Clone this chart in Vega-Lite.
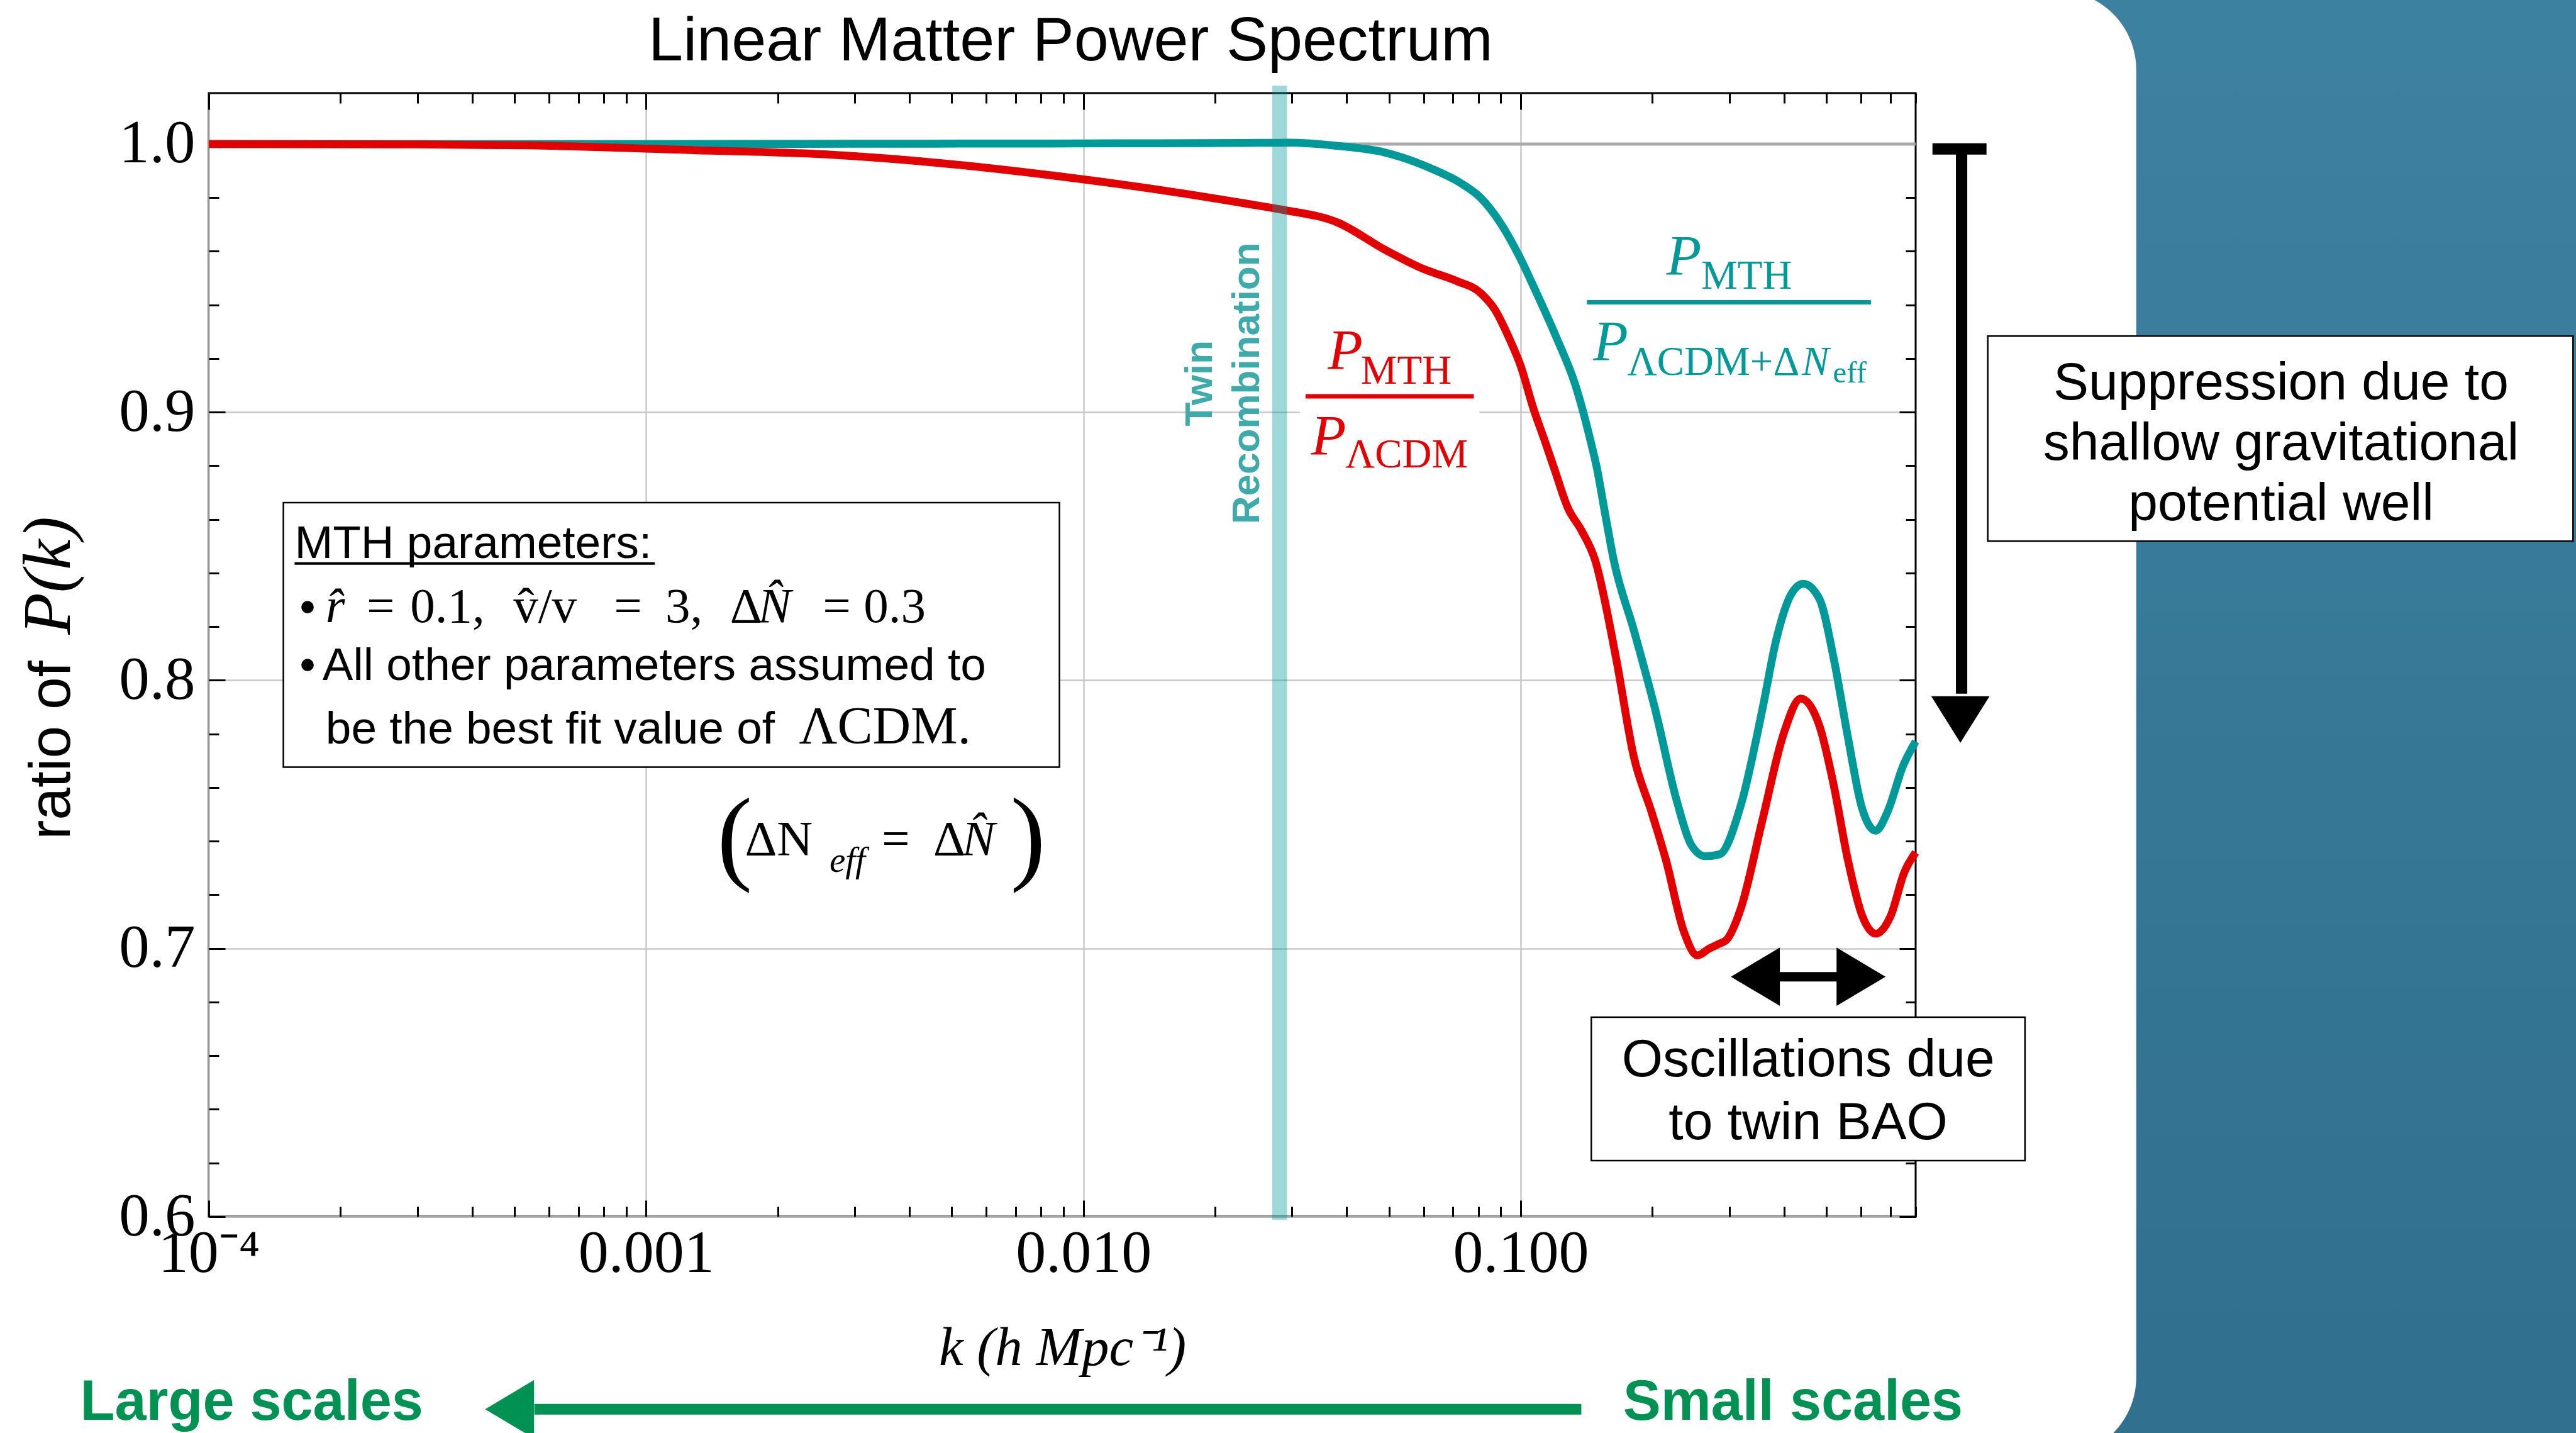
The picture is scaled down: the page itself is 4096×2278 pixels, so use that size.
{
 "$schema": "https://vega.github.io/schema/vega-lite/v6.json",
 "width": 2714,
 "height": 1786,
 "autosize": {"type": "none"},
 "padding": {"left": 332, "top": 148, "right": 1050, "bottom": 344},
 "background": "white",
 "config": {"view": {"stroke": "black", "strokeWidth": 3}},
 "data": {"values": [{}]},
 "datasets": {
  "teal": [
   {"k": 0.0001, "ratio": 1.0}, {"k": 0.0003, "ratio": 1.0}, {"k": 0.001, "ratio": 1.0}, {"k": 0.003, "ratio": 1.0001},
   {"k": 0.008, "ratio": 1.0002}, {"k": 0.015, "ratio": 1.0003}, {"k": 0.02313, "ratio": 1.0004}, {"k": 0.02935, "ratio": 1.0005},
   {"k": 0.03818, "ratio": 0.9993}, {"k": 0.04902, "ratio": 0.9968}, {"k": 0.06297, "ratio": 0.9906}, {"k": 0.07316, "ratio": 0.9853},
   {"k": 0.08091, "ratio": 0.98}, {"k": 0.08943, "ratio": 0.9711}, {"k": 0.09886, "ratio": 0.9587}, {"k": 0.1093, "ratio": 0.9436},
   {"k": 0.1208, "ratio": 0.9277}, {"k": 0.1335, "ratio": 0.9099}, {"k": 0.1439, "ratio": 0.8904}, {"k": 0.1494, "ratio": 0.879},
   {"k": 0.156, "ratio": 0.862}, {"k": 0.163, "ratio": 0.8452}, {"k": 0.1815, "ratio": 0.8186}, {"k": 0.2031, "ratio": 0.789},
   {"k": 0.2274, "ratio": 0.7551}, {"k": 0.2451, "ratio": 0.7388}, {"k": 0.2642, "ratio": 0.7344}, {"k": 0.2849, "ratio": 0.7351},
   {"k": 0.3189, "ratio": 0.7536}, {"k": 0.3568, "ratio": 0.789}, {"k": 0.3846, "ratio": 0.8156}, {"k": 0.4147, "ratio": 0.8319},
   {"k": 0.4428, "ratio": 0.836}, {"k": 0.4819, "ratio": 0.8304}, {"k": 0.5195, "ratio": 0.8083}, {"k": 0.5601, "ratio": 0.7787},
   {"k": 0.6038, "ratio": 0.7521}, {"k": 0.6485, "ratio": 0.7439}, {"k": 0.6884, "ratio": 0.7506}, {"k": 0.7495, "ratio": 0.7683},
   {"k": 0.8, "ratio": 0.7772}
  ],
  "red": [
   {"k": 0.0001, "ratio": 1.0}, {"k": 0.0003, "ratio": 0.9999}, {"k": 0.000534, "ratio": 0.9995}, {"k": 0.001283, "ratio": 0.9977},
   {"k": 0.00266, "ratio": 0.996}, {"k": 0.004779, "ratio": 0.9928}, {"k": 0.00856, "ratio": 0.9882}, {"k": 0.01537, "ratio": 0.9826},
   {"k": 0.02313, "ratio": 0.978}, {"k": 0.02828, "ratio": 0.9756}, {"k": 0.03818, "ratio": 0.9707}, {"k": 0.04902, "ratio": 0.9605},
   {"k": 0.05994, "ratio": 0.9534}, {"k": 0.07141, "ratio": 0.9489}, {"k": 0.08091, "ratio": 0.9445}, {"k": 0.08724, "ratio": 0.9383},
   {"k": 0.09404, "ratio": 0.9277}, {"k": 0.1001, "ratio": 0.917}, {"k": 0.1066, "ratio": 0.902}, {"k": 0.1134, "ratio": 0.8895},
   {"k": 0.1193, "ratio": 0.879}, {"k": 0.1281, "ratio": 0.8644}, {"k": 0.138, "ratio": 0.8556}, {"k": 0.1477, "ratio": 0.8452},
   {"k": 0.1652, "ratio": 0.8083}, {"k": 0.1815, "ratio": 0.7713}, {"k": 0.1994, "ratio": 0.7506}, {"k": 0.2149, "ratio": 0.7329},
   {"k": 0.2361, "ratio": 0.7063}, {"k": 0.2535, "ratio": 0.6974}, {"k": 0.27, "ratio": 0.7}, {"k": 0.2849, "ratio": 0.7018},
   {"k": 0.2958, "ratio": 0.7033}, {"k": 0.3189, "ratio": 0.7151}, {"k": 0.3568, "ratio": 0.7477}, {"k": 0.3994, "ratio": 0.7802},
   {"k": 0.4371, "ratio": 0.7932}, {"k": 0.4819, "ratio": 0.7831}, {"k": 0.5195, "ratio": 0.761}, {"k": 0.5601, "ratio": 0.7329},
   {"k": 0.6038, "ratio": 0.7122}, {"k": 0.6485, "ratio": 0.7055}, {"k": 0.7016, "ratio": 0.7122}, {"k": 0.7537, "ratio": 0.7284},
   {"k": 0.8, "ratio": 0.7358}
  ]
 },
 "resolve": {"axis": {"x": "independent", "y": "independent"}},
 "layer": [
  {
   "mark": {"type": "rect", "fill": {"x1": 0, "y1": 0, "x2": 0, "y2": 1, "gradient": "linear", "stops": [{"offset": 0, "color": "#3e82a2"}, {"offset": 1, "color": "#2f6d8b"}]}},
   "encoding": {
    "x": {"datum": 1.627, "type": "quantitative", "scale": {"type": "log", "domain": [0.0001, 0.8], "nice": false}, "axis": null},
    "x2": {"datum": 200},
    "y": {"datum": 0.45, "type": "quantitative", "scale": {"domain": [0.6, 1.019], "nice": false, "zero": false}, "axis": null},
    "y2": {"datum": 1.1}
   }
  },
  {
   "mark": {"type": "rect", "fill": "white", "cornerRadius": 126},
   "encoding": {
    "x": {"datum": 0.846, "type": "quantitative", "scale": {"type": "log", "domain": [0.0001, 0.8], "nice": false}, "axis": null},
    "x2": {"datum": 2.556},
    "y": {"datum": 0.51054, "type": "quantitative", "scale": {"domain": [0.6, 1.019], "nice": false, "zero": false}, "axis": null},
    "y2": {"datum": 1.05724}
   }
  },
  {
   "mark": {"type": "rect", "fill": "white"},
   "encoding": {
    "x": {"datum": 0.03126, "type": "quantitative", "scale": {"type": "log", "domain": [0.0001, 0.8], "nice": false},
     "axis": {"orient": "top", "values": [0.0002, 0.0003, 0.0004, 0.0005, 0.0006, 0.0007, 0.0008, 0.0009, 0.002, 0.003, 0.004, 0.005, 0.006, 0.007, 0.008, 0.009, 0.02, 0.03, 0.04, 0.05, 0.06, 0.07, 0.08, 0.09, 0.2, 0.3, 0.4, 0.5, 0.6, 0.7, 0.8], "labels": false, "ticks": true, "tickSize": -16, "tickWidth": 3, "tickColor": "black", "domain": false, "grid": false, "title": null}},
    "x2": {"datum": 0.08045},
    "y": {"datum": 0.87532, "type": "quantitative", "scale": {"domain": [0.6, 1.019], "nice": false, "zero": false},
     "axis": {"orient": "right", "values": [0.6, 0.62, 0.64, 0.66, 0.68, 0.7, 0.72, 0.74, 0.76, 0.78, 0.8, 0.82, 0.84, 0.86, 0.88, 0.9, 0.92, 0.94, 0.96, 0.98, 1.0], "labels": false, "ticks": true, "tickSize": -16, "tickWidth": 3, "tickColor": "black", "domain": false, "grid": false, "title": null}},
    "y2": {"datum": 0.93441}
   }
  },
  {
   "mark": {"type": "rule", "color": "#aaaaaa", "strokeWidth": 5},
   "encoding": {
    "x": {"datum": 0.0001, "type": "quantitative", "scale": {"type": "log", "domain": [0.0001, 0.8], "nice": false},
     "axis": {"orient": "bottom", "values": [0.0002, 0.0003, 0.0004, 0.0005, 0.0006, 0.0007, 0.0008, 0.0009, 0.002, 0.003, 0.004, 0.005, 0.006, 0.007, 0.008, 0.009, 0.02, 0.03, 0.04, 0.05, 0.06, 0.07, 0.08, 0.09, 0.2, 0.3, 0.4, 0.5, 0.6, 0.7, 0.8], "labels": false, "ticks": true, "tickSize": -16, "tickWidth": 3, "tickColor": "black", "domain": false, "grid": false, "title": null}},
    "x2": {"datum": 0.8},
    "y": {"datum": 1.0, "type": "quantitative", "scale": {"domain": [0.6, 1.019], "nice": false, "zero": false},
     "axis": {"orient": "left", "values": [0.6, 0.62, 0.64, 0.66, 0.68, 0.7, 0.72, 0.74, 0.76, 0.78, 0.8, 0.82, 0.84, 0.86, 0.88, 0.9, 0.92, 0.94, 0.96, 0.98, 1.0], "labels": false, "ticks": true, "tickSize": -16, "tickWidth": 3, "tickColor": "black", "domain": false, "grid": false, "title": null}}
   }
  },
  {
   "data": {"name": "teal"},
   "mark": {"type": "line", "color": "#009999", "strokeWidth": 12.5, "interpolate": "monotone"},
   "encoding": {
    "x": {"field": "k", "type": "quantitative", "scale": {"type": "log", "domain": [0.0001, 0.8], "nice": false},
     "axis": {"orient": "bottom", "values": [0.0001, 0.001, 0.01, 0.1], "labelExpr": "datum.value < 0.0005 ? '10⁻⁴' : format(datum.value, '.3f')", "labelFont": "Liberation Serif", "labelFontSize": 96, "labelColor": "black", "labelPadding": 11, "labelLimit": 0, "labelFlush": false, "labelOverlap": false, "ticks": false, "domain": false, "grid": true, "gridColor": "#c8c8c8", "gridWidth": 2.5, "title": "k (h Mpc⁻¹)", "titleFont": "Liberation Serif", "titleFontStyle": "italic", "titleFontWeight": "normal", "titleFontSize": 87, "titleColor": "black", "titlePadding": 60}},
    "y": {"field": "ratio", "type": "quantitative", "scale": {"domain": [0.6, 1.019], "nice": false, "zero": false},
     "axis": {"orient": "left", "values": [0.6, 0.7, 0.8, 0.9, 1.0], "format": ".1f", "labelFont": "Liberation Serif", "labelFontSize": 97, "labelColor": "black", "labelPadding": 22, "labelLimit": 0, "labelFlush": false, "labelOverlap": false, "ticks": false, "domain": false, "grid": true, "gridColor": "#c8c8c8", "gridWidth": 2.5, "title": null}}
   }
  },
  {
   "data": {"name": "red"},
   "mark": {"type": "line", "color": "#e30000", "strokeWidth": 12.5, "interpolate": "monotone"},
   "encoding": {
    "x": {"field": "k", "type": "quantitative", "scale": {"type": "log", "domain": [0.0001, 0.8], "nice": false},
     "axis": {"orient": "bottom", "values": [0.0001, 0.001, 0.01, 0.1], "labels": false, "ticks": true, "tickSize": -26, "tickWidth": 3, "tickColor": "black", "domain": false, "grid": false, "title": null}},
    "y": {"field": "ratio", "type": "quantitative", "scale": {"domain": [0.6, 1.019], "nice": false, "zero": false},
     "axis": {"orient": "left", "values": [0.6, 0.7, 0.8, 0.9, 1.0], "labels": false, "ticks": true, "tickSize": -26, "tickWidth": 3, "tickColor": "black", "domain": false, "grid": false, "title": null}}
   }
  },
  {
   "mark": {"type": "rule", "color": "#009999", "opacity": 0.38, "strokeWidth": 23.5},
   "encoding": {
    "x": {"datum": 0.0281, "type": "quantitative", "scale": {"type": "log", "domain": [0.0001, 0.8], "nice": false},
     "axis": {"orient": "top", "values": [0.0001, 0.001, 0.01, 0.1], "labels": false, "ticks": true, "tickSize": -26, "tickWidth": 3, "tickColor": "black", "domain": false, "grid": false, "title": null}},
    "y": {"datum": 0.59884, "type": "quantitative", "scale": {"domain": [0.6, 1.019], "nice": false, "zero": false},
     "axis": {"orient": "right", "values": [0.6, 0.7, 0.8, 0.9, 1.0], "labels": false, "ticks": true, "tickSize": -26, "tickWidth": 3, "tickColor": "black", "domain": false, "grid": false, "title": null}},
    "y2": {"datum": 1.02178}
   }
  },
  {
   "data": {"values": [{"k": 0.01965, "v": 0.91078, "t": "Twin"}, {"k": 0.02518, "v": 0.91078, "t": "Recombination"}]},
   "mark": {"type": "text", "angle": 270, "align": "center", "baseline": "alphabetic", "font": "Liberation Sans", "fontWeight": "bold", "fontSize": 62, "color": "#3faaaa"},
   "encoding": {
    "x": {"field": "k", "type": "quantitative", "scale": {"type": "log", "domain": [0.0001, 0.8], "nice": false}, "axis": null},
    "y": {"field": "v", "type": "quantitative", "scale": {"domain": [0.6, 1.019], "nice": false, "zero": false}, "axis": null},
    "text": {"field": "t"}
   }
  },
  {
   "data": {"values": [{"k": 0.0322, "k2": 0.0781, "v": 0.90591, "c": "red"}, {"k": 0.1417, "k2": 0.6323, "v": 0.94102, "c": "teal"}]},
   "mark": {"type": "rule", "strokeWidth": 7},
   "encoding": {
    "x": {"field": "k", "type": "quantitative", "scale": {"type": "log", "domain": [0.0001, 0.8], "nice": false}, "axis": null},
    "x2": {"field": "k2"},
    "y": {"field": "v", "type": "quantitative", "scale": {"domain": [0.6, 1.019], "nice": false, "zero": false}, "axis": null},
    "color": {"field": "c", "type": "nominal", "scale": {"domain": ["red", "teal", "black", "green"], "range": ["#e30000", "#009999", "black", "#009252"]}, "legend": null}
   }
  },
  {
   "data": {"values": [{"k": 0.03622, "v": 0.9159, "t": "P", "c": "red"}, {"k": 0.03317, "v": 0.8841, "t": "P", "c": "red"}, {"k": 0.2154, "v": 0.9513, "t": "P", "c": "teal"}, {"k": 0.1464, "v": 0.9194, "t": "P", "c": "teal"}]},
   "mark": {"type": "text", "align": "left", "baseline": "alphabetic", "font": "Liberation Serif", "fontStyle": "italic", "fontSize": 91},
   "encoding": {
    "x": {"field": "k", "type": "quantitative", "scale": {"type": "log", "domain": [0.0001, 0.8], "nice": false}, "axis": null},
    "y": {"field": "v", "type": "quantitative", "scale": {"domain": [0.6, 1.019], "nice": false, "zero": false}, "axis": null},
    "text": {"field": "t"},
    "color": {"field": "c", "type": "nominal", "scale": {"domain": ["red", "teal", "black", "green"], "range": ["#e30000", "#009999", "black", "#009252"]}, "legend": null}
   }
  },
  {
   "data": {"values": [{"k": 0.04309, "v": 0.9105, "t": "MTH", "c": "red"}, {"k": 0.0397, "v": 0.8793, "t": "ΛCDM", "c": "red"}, {"k": 0.2587, "v": 0.946, "t": "MTH", "c": "teal"}, {"k": 0.1753, "v": 0.914, "t": "ΛCDM+Δ", "c": "teal"}]},
   "mark": {"type": "text", "align": "left", "baseline": "alphabetic", "font": "Liberation Serif", "fontSize": 65},
   "encoding": {
    "x": {"field": "k", "type": "quantitative", "scale": {"type": "log", "domain": [0.0001, 0.8], "nice": false}, "axis": null},
    "y": {"field": "v", "type": "quantitative", "scale": {"domain": [0.6, 1.019], "nice": false, "zero": false}, "axis": null},
    "text": {"field": "t"},
    "color": {"field": "c", "type": "nominal", "scale": {"domain": ["red", "teal", "black", "green"], "range": ["#e30000", "#009999", "black", "#009252"]}, "legend": null}
   }
  },
  {
   "mark": {"type": "text", "align": "left", "baseline": "alphabetic", "font": "Liberation Serif", "fontStyle": "italic", "fontSize": 65, "color": "#009999", "text": "N"},
   "encoding": {
    "x": {"datum": 0.4395, "type": "quantitative", "scale": {"type": "log", "domain": [0.0001, 0.8], "nice": false}, "axis": null},
    "y": {"datum": 0.914, "type": "quantitative", "scale": {"domain": [0.6, 1.019], "nice": false, "zero": false}, "axis": null}
   }
  },
  {
   "mark": {"type": "text", "align": "left", "baseline": "alphabetic", "font": "Liberation Serif", "fontSize": 49, "color": "#009999", "text": "eff"},
   "encoding": {
    "x": {"datum": 0.5177, "type": "quantitative", "scale": {"type": "log", "domain": [0.0001, 0.8], "nice": false}, "axis": null},
    "y": {"datum": 0.91101, "type": "quantitative", "scale": {"domain": [0.6, 1.019], "nice": false, "zero": false}, "axis": null}
   }
  },
  {
   "data": {"values": [{"k": 0.0001481, "k2": 0.008814, "v": 0.7676, "v2": 0.8663}, {"k": 1.1695, "k2": 25.49, "v": 0.85191, "v2": 0.92839}, {"k": 0.145, "k2": 1.4228, "v": 0.62086, "v2": 0.67439}]},
   "mark": {"type": "rect", "fill": "white", "stroke": "black", "strokeWidth": 2.5},
   "encoding": {
    "x": {"field": "k", "type": "quantitative", "scale": {"type": "log", "domain": [0.0001, 0.8], "nice": false}, "axis": null},
    "x2": {"field": "k2"},
    "y": {"field": "v", "type": "quantitative", "scale": {"domain": [0.6, 1.019], "nice": false, "zero": false}, "axis": null},
    "y2": {"field": "v2"}
   }
  },
  {
   "mark": {"type": "rule", "color": "black", "strokeWidth": 4},
   "encoding": {
    "x": {"datum": 0.0001571, "type": "quantitative", "scale": {"type": "log", "domain": [0.0001, 0.8], "nice": false}, "axis": null},
    "x2": {"datum": 0.001047},
    "y": {"datum": 0.84357, "type": "quantitative", "scale": {"domain": [0.6, 1.019], "nice": false, "zero": false}, "axis": null}
   }
  },
  {
   "data": {"values": [{"k": 0.0001571, "v": 0.8457, "t": "MTH parameters:"}, {"k": 0.0001612, "v": 0.8218, "t": "•"}, {"k": 0.0001612, "v": 0.8, "t": "•"}, {"k": 0.000182, "v": 0.8, "t": "All other parameters assumed to"}, {"k": 0.000185, "v": 0.7764, "t": "be the best fit value of"}]},
   "mark": {"type": "text", "align": "left", "baseline": "alphabetic", "font": "Liberation Sans", "fontSize": 73, "color": "black"},
   "encoding": {
    "x": {"field": "k", "type": "quantitative", "scale": {"type": "log", "domain": [0.0001, 0.8], "nice": false}, "axis": null},
    "y": {"field": "v", "type": "quantitative", "scale": {"domain": [0.6, 1.019], "nice": false, "zero": false}, "axis": null},
    "text": {"field": "t"}
   }
  },
  {
   "data": {"values": [{"k": 0.0002296, "v": 0.8218, "t": "="}, {"k": 0.0002887, "v": 0.8218, "t": "0.1,"}, {"k": 0.0004969, "v": 0.8218, "t": "v̂/v"}, {"k": 0.0008442, "v": 0.8218, "t": "="}, {"k": 0.001107, "v": 0.8218, "t": "3,"}, {"k": 0.001556, "v": 0.8218, "t": "Δ"}, {"k": 0.002534, "v": 0.8218, "t": "="}, {"k": 0.003145, "v": 0.8218, "t": "0.3"}]},
   "mark": {"type": "text", "align": "left", "baseline": "alphabetic", "font": "Liberation Serif", "fontSize": 79, "color": "black"},
   "encoding": {
    "x": {"field": "k", "type": "quantitative", "scale": {"type": "log", "domain": [0.0001, 0.8], "nice": false}, "axis": null},
    "y": {"field": "v", "type": "quantitative", "scale": {"domain": [0.6, 1.019], "nice": false, "zero": false}, "axis": null},
    "text": {"field": "t"}
   }
  },
  {
   "data": {"values": [{"k": 0.000185, "v": 0.8218, "t": "r̂"}, {"k": 0.001803, "v": 0.8218, "t": "N̂"}]},
   "mark": {"type": "text", "align": "left", "baseline": "alphabetic", "font": "Liberation Serif", "fontStyle": "italic", "fontSize": 79, "color": "black"},
   "encoding": {
    "x": {"field": "k", "type": "quantitative", "scale": {"type": "log", "domain": [0.0001, 0.8], "nice": false}, "axis": null},
    "y": {"field": "v", "type": "quantitative", "scale": {"domain": [0.6, 1.019], "nice": false, "zero": false}, "axis": null},
    "text": {"field": "t"}
   }
  },
  {
   "mark": {"type": "text", "align": "left", "baseline": "alphabetic", "font": "Liberation Serif", "fontSize": 84, "color": "black", "text": "ΛCDM."},
   "encoding": {
    "x": {"datum": 0.002237, "type": "quantitative", "scale": {"type": "log", "domain": [0.0001, 0.8], "nice": false}, "axis": null},
    "y": {"datum": 0.7764, "type": "quantitative", "scale": {"domain": [0.6, 1.019], "nice": false, "zero": false}, "axis": null}
   }
  },
  {
   "data": {"values": [{"k": 0.001683, "v": 0.73488, "t": "ΔN"}, {"k": 0.003457, "v": 0.73488, "t": "="}, {"k": 0.004536, "v": 0.73488, "t": "Δ"}]},
   "mark": {"type": "text", "align": "left", "baseline": "alphabetic", "font": "Liberation Serif", "fontSize": 79, "color": "black"},
   "encoding": {
    "x": {"field": "k", "type": "quantitative", "scale": {"type": "log", "domain": [0.0001, 0.8], "nice": false}, "axis": null},
    "y": {"field": "v", "type": "quantitative", "scale": {"domain": [0.6, 1.019], "nice": false, "zero": false}, "axis": null},
    "text": {"field": "t"}
   }
  },
  {
   "mark": {"type": "text", "align": "left", "baseline": "alphabetic", "font": "Liberation Serif", "fontStyle": "italic", "fontSize": 79, "color": "black", "text": "N̂"},
   "encoding": {
    "x": {"datum": 0.005274, "type": "quantitative", "scale": {"type": "log", "domain": [0.0001, 0.8], "nice": false}, "axis": null},
    "y": {"datum": 0.73488, "type": "quantitative", "scale": {"domain": [0.6, 1.019], "nice": false, "zero": false}, "axis": null}
   }
  },
  {
   "mark": {"type": "text", "align": "left", "baseline": "alphabetic", "font": "Liberation Serif", "fontStyle": "italic", "fontSize": 57, "color": "black", "text": "eff"},
   "encoding": {
    "x": {"datum": 0.002626, "type": "quantitative", "scale": {"type": "log", "domain": [0.0001, 0.8], "nice": false}, "axis": null},
    "y": {"datum": 0.72862, "type": "quantitative", "scale": {"domain": [0.6, 1.019], "nice": false, "zero": false}, "axis": null}
   }
  },
  {
   "data": {"values": [{"k": 0.001453, "v": 0.72909, "t": "("}, {"k": 0.006808, "v": 0.72909, "t": ")"}]},
   "mark": {"type": "text", "align": "left", "baseline": "alphabetic", "font": "Liberation Serif", "fontSize": 168, "color": "black"},
   "encoding": {
    "x": {"field": "k", "type": "quantitative", "scale": {"type": "log", "domain": [0.0001, 0.8], "nice": false}, "axis": null},
    "y": {"field": "v", "type": "quantitative", "scale": {"domain": [0.6, 1.019], "nice": false, "zero": false}, "axis": null},
    "text": {"field": "t"}
   }
  },
  {
   "mark": {"type": "text", "align": "center", "baseline": "alphabetic", "font": "Liberation Sans", "fontSize": 84, "lineHeight": 96, "color": "black", "text": ["Suppression due to", "shallow gravitational", "potential well"]},
   "encoding": {
    "x": {"datum": 5.478, "type": "quantitative", "scale": {"type": "log", "domain": [0.0001, 0.8], "nice": false}, "axis": null},
    "y": {"datum": 0.90475, "type": "quantitative", "scale": {"domain": [0.6, 1.019], "nice": false, "zero": false}, "axis": null}
   }
  },
  {
   "mark": {"type": "text", "align": "center", "baseline": "alphabetic", "font": "Liberation Sans", "fontSize": 84, "lineHeight": 100, "color": "black", "text": ["Oscillations due", "to twin BAO"]},
   "encoding": {
    "x": {"datum": 0.4543, "type": "quantitative", "scale": {"type": "log", "domain": [0.0001, 0.8], "nice": false}, "axis": null},
    "y": {"datum": 0.65237, "type": "quantitative", "scale": {"domain": [0.6, 1.019], "nice": false, "zero": false}, "axis": null}
   }
  },
  {
   "data": {"values": [{"k": 1.019, "k2": 1.019, "v": 0.99815, "v2": 0.795}, {"k": 0.874, "k2": 1.1618, "v": 0.99815, "v2": 0.99815}]},
   "mark": {"type": "rule", "color": "black", "strokeWidth": 18},
   "encoding": {
    "x": {"field": "k", "type": "quantitative", "scale": {"type": "log", "domain": [0.0001, 0.8], "nice": false}, "axis": null},
    "x2": {"field": "k2"},
    "y": {"field": "v", "type": "quantitative", "scale": {"domain": [0.6, 1.019], "nice": false, "zero": false}, "axis": null},
    "y2": {"field": "v2"}
   }
  },
  {
   "mark": {"type": "rule", "color": "black", "strokeWidth": 15},
   "encoding": {
    "x": {"datum": 0.3896, "type": "quantitative", "scale": {"type": "log", "domain": [0.0001, 0.8], "nice": false}, "axis": null},
    "x2": {"datum": 0.5297},
    "y": {"datum": 0.68946, "type": "quantitative", "scale": {"domain": [0.6, 1.019], "nice": false, "zero": false}, "axis": null}
   }
  },
  {
   "mark": {"type": "rule", "color": "#009252", "strokeWidth": 17},
   "encoding": {
    "x": {"datum": 0.0005552, "type": "quantitative", "scale": {"type": "log", "domain": [0.0001, 0.8], "nice": false}, "axis": null},
    "x2": {"datum": 0.1376},
    "y": {"datum": 0.52816, "type": "quantitative", "scale": {"domain": [0.6, 1.019], "nice": false, "zero": false}, "axis": null}
   }
  },
  {
   "data": {"values": [{"k": 1.0125, "v": 0.7854, "d": "down", "c": "black"}, {"k": 0.344, "v": 0.68946, "d": "left", "c": "black"}, {"k": 0.6002, "v": 0.68946, "d": "right", "c": "black"}, {"k": 0.0004873, "v": 0.52816, "d": "left", "c": "green"}]},
   "mark": {"type": "point", "filled": true, "opacity": 1, "size": 8600},
   "encoding": {
    "x": {"field": "k", "type": "quantitative", "scale": {"type": "log", "domain": [0.0001, 0.8], "nice": false}, "axis": null},
    "y": {"field": "v", "type": "quantitative", "scale": {"domain": [0.6, 1.019], "nice": false, "zero": false}, "axis": null},
    "shape": {"field": "d", "type": "nominal", "scale": {"domain": ["down", "left", "right"], "range": ["M-1,-0.8L1,-0.8L0,0.8Z", "M-0.84,0L0.84,-1L0.84,1Z", "M0.84,0L-0.84,-1L-0.84,1Z"]}, "legend": null},
    "color": {"field": "c", "type": "nominal", "scale": {"domain": ["red", "teal", "black", "green"], "range": ["#e30000", "#009999", "black", "#009252"]}, "legend": null}
   }
  },
  {
   "data": {"values": [{"k": 0.00005079, "v": 0.52422, "t": "Large scales"}, {"k": 0.1714, "v": 0.52422, "t": "Small scales"}]},
   "mark": {"type": "text", "align": "left", "baseline": "alphabetic", "font": "Liberation Sans", "fontWeight": "bold", "fontSize": 90, "color": "#009252"},
   "encoding": {
    "x": {"field": "k", "type": "quantitative", "scale": {"type": "log", "domain": [0.0001, 0.8], "nice": false}, "axis": null},
    "y": {"field": "v", "type": "quantitative", "scale": {"domain": [0.6, 1.019], "nice": false, "zero": false}, "axis": null},
    "text": {"field": "t"}
   }
  },
  {
   "mark": {"type": "text", "align": "center", "baseline": "alphabetic", "font": "Liberation Sans", "fontSize": 99, "color": "black", "text": "Linear Matter Power Spectrum"},
   "encoding": {
    "x": {"datum": 0.009348, "type": "quantitative", "scale": {"type": "log", "domain": [0.0001, 0.8], "nice": false}, "axis": null},
    "y": {"datum": 1.03129, "type": "quantitative", "scale": {"domain": [0.6, 1.019], "nice": false, "zero": false}, "axis": null}
   }
  },
  {
   "mark": {"type": "text", "angle": 270, "align": "center", "baseline": "alphabetic", "font": "Liberation Sans", "fontSize": 93, "color": "black", "text": "ratio of"},
   "encoding": {
    "x": {"datum": 0.00004805, "type": "quantitative", "scale": {"type": "log", "domain": [0.0001, 0.8], "nice": false}, "axis": null},
    "y": {"datum": 0.77393, "type": "quantitative", "scale": {"domain": [0.6, 1.019], "nice": false, "zero": false}, "axis": null}
   }
  },
  {
   "mark": {"type": "text", "angle": 270, "align": "center", "baseline": "alphabetic", "font": "Liberation Serif", "fontStyle": "italic", "fontSize": 109, "color": "black", "text": "P(k)"},
   "encoding": {
    "x": {"datum": 0.00004805, "type": "quantitative", "scale": {"type": "log", "domain": [0.0001, 0.8], "nice": false}, "axis": null},
    "y": {"datum": 0.83905, "type": "quantitative", "scale": {"domain": [0.6, 1.019], "nice": false, "zero": false}, "axis": null}
   }
  }
 ]
}
